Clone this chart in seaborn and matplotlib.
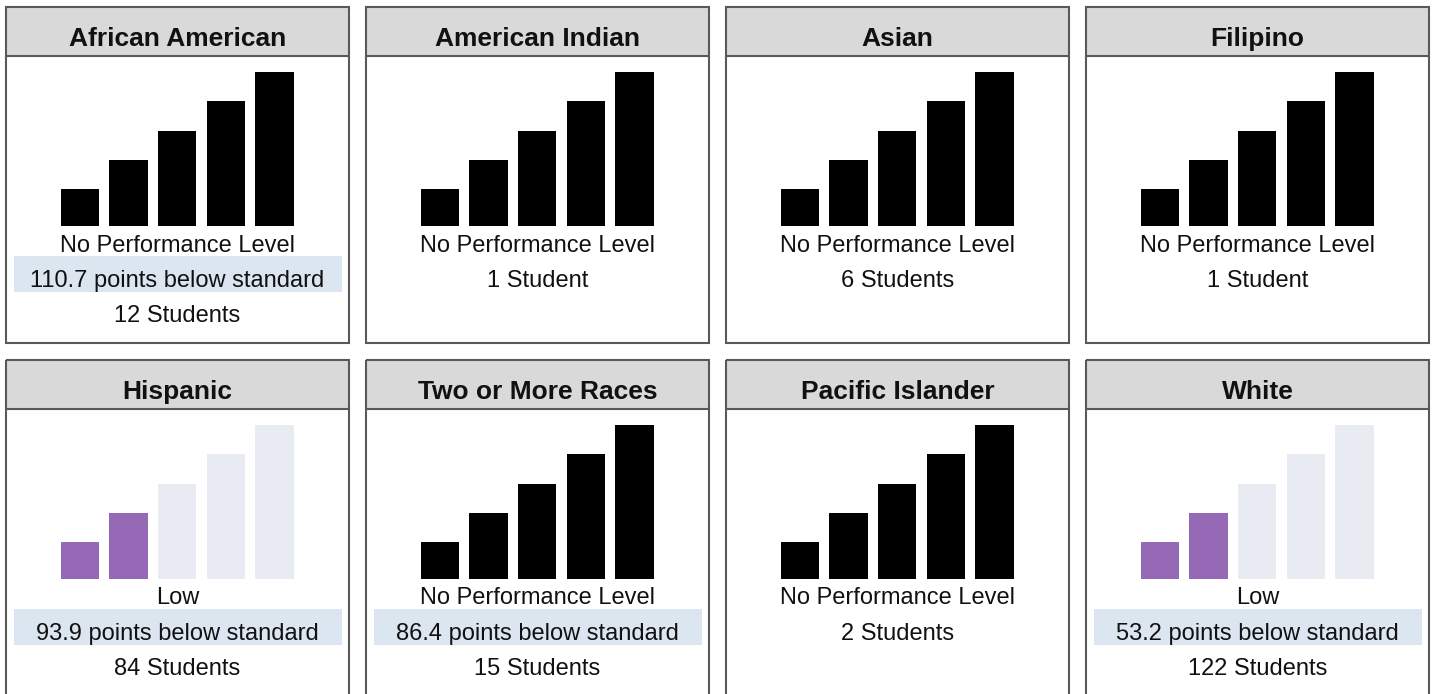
import matplotlib

matplotlib.use("Agg")
import matplotlib.pyplot as plt
import seaborn as sns
from matplotlib.patches import Rectangle

groups = [
    "African American",
    "American Indian",
    "Asian",
    "Filipino",
    "Hispanic",
    "Two or More Races",
    "Pacific Islander",
    "White",
]
performance = [
    "No Performance Level",
    "No Performance Level",
    "No Performance Level",
    "No Performance Level",
    "Low",
    "No Performance Level",
    "No Performance Level",
    "Low",
]
distance = [
    "110.7 points below standard",
    None,
    None,
    None,
    "93.9 points below standard",
    "86.4 points below standard",
    None,
    "53.2 points below standard",
]
students = [12, 1, 6, 1, 84, 15, 2, 122]

status_levels = ["Very Low", "Low", "Medium", "High", "Very High"]
bar_heights = [5, 9, 13, 17, 21]

W, H = 1433, 694
PANEL_W, PANEL_H = 343, 336
COL_X = [6, 366, 726, 1086]
ROW_Y = [7, 360]

BORDER = "#595959"
HEADER_BG = "#d9d9d9"
BOX_BG = "#dce6f1"
PURPLE = "#985cc4"
LIGHT = "#e6eaf2"

sns.set_theme(style="white")
plt.rcParams["font.family"] = ["Liberation Sans", "DejaVu Sans"]

fig = plt.figure(figsize=(W / 100, H / 100), dpi=100)


def bar_colors(level):
    if level == "No Performance Level":
        return ["#000000"] * len(status_levels)
    filled = status_levels.index(level) + 1
    return [PURPLE] * filled + [LIGHT] * (len(status_levels) - filled)


for i, group in enumerate(groups):
    left = COL_X[i % 4]
    top = ROW_Y[i // 4]

    # panel frame in pixel coordinates
    pax = fig.add_axes([left / W, 1 - (top + PANEL_H) / H, PANEL_W / W, PANEL_H / H])
    pax.set_xlim(0, PANEL_W)
    pax.set_ylim(PANEL_H, 0)
    pax.axis("off")
    pax.add_patch(Rectangle((0, 0), PANEL_W, 49, facecolor=HEADER_BG, edgecolor="none"))
    pax.add_patch(Rectangle((0, 0), PANEL_W, PANEL_H, facecolor="none",
                            edgecolor=BORDER, linewidth=1.5, clip_on=False))
    pax.plot([0, PANEL_W], [49, 49], color=BORDER, linewidth=1.5)
    pax.text(PANEL_W / 2, 39, group, ha="center", va="baseline",
             fontsize=19, fontweight="bold", color="#111111")

    pax.text(PANEL_W / 2, 244.5, performance[i], ha="center", va="baseline",
             fontsize=17, color="#111111")
    if distance[i] is not None:
        pax.add_patch(Rectangle((8, 249), 328, 36, facecolor=BOX_BG, edgecolor="none"))
        pax.text(PANEL_W / 2, 280, distance[i], ha="center", va="baseline",
                 fontsize=17, color="#111111")
        count_y = 315
    else:
        count_y = 280
    label = "Student" if students[i] == 1 else "Students"
    pax.text(PANEL_W / 2, count_y, f"{students[i]} {label}", ha="center",
             va="baseline", fontsize=17, color="#111111")

    # status bars
    bx = left + 49.7
    base = top + 219
    bax = fig.add_axes([bx / W, 1 - base / H, 243.1 / W, 154 / H])
    sns.barplot(
        x=status_levels,
        y=bar_heights,
        hue=status_levels,
        palette=bar_colors(performance[i]),
        order=status_levels,
        hue_order=status_levels,
        width=0.79,
        legend=False,
        linewidth=0,
        ax=bax,
    )
    bax.set_xlim(-0.5, len(status_levels) - 0.5)
    bax.set_ylim(0, max(bar_heights))
    bax.axis("off")

fig.savefig("out.png", dpi=100, facecolor="white")
